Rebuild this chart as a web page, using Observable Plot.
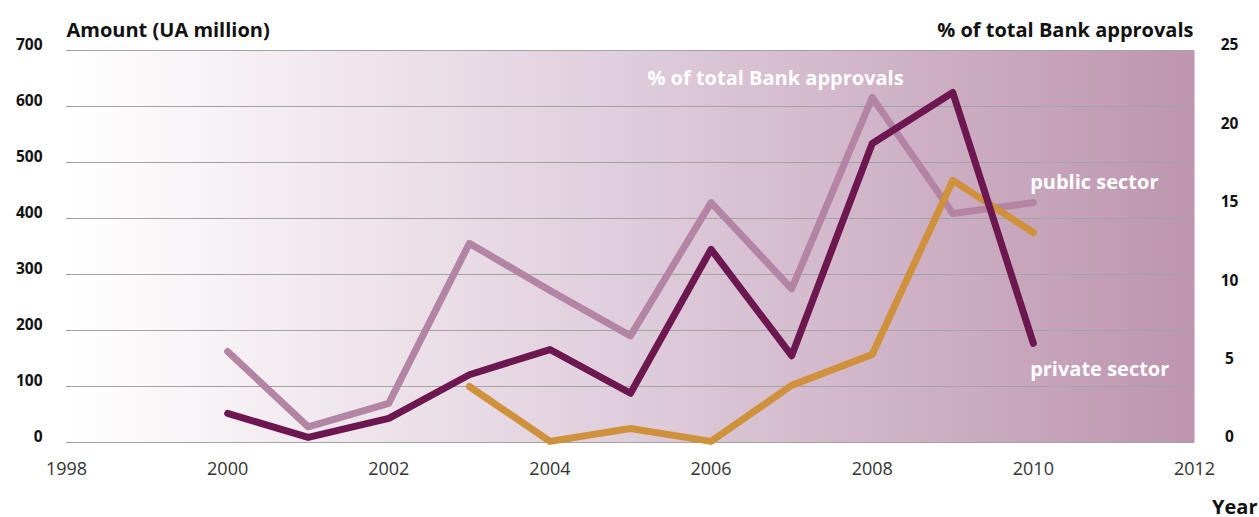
<!DOCTYPE html>
<html>
<head>
<meta charset="utf-8">
<script src="https://cdn.jsdelivr.net/npm/d3@7"></script>
<script src="https://cdn.jsdelivr.net/npm/@observablehq/plot@0.6"></script>
<style>
  html, body { margin: 0; padding: 0; background: #ffffff; }
  #chart svg { display: block; }
</style>
</head>
<body>
<div id="chart"></div>
<script>
// ---- data ----
const years = [2000, 2001, 2002, 2003, 2004, 2005, 2006, 2007, 2008, 2009, 2010];
const privateSector = [52, 9, 43, 121, 166, 88, 345, 155, 534, 625, 177];            // UA million
const pctTotalApprovals = [5.8, 1.0, 2.5, 12.7, 9.7, 6.8, 15.3, 9.8, 22.0, 14.6, 15.3]; // %
const publicYears = [2003, 2004, 2005, 2006, 2007, 2008, 2009, 2010];
const publicSector = [100, 2, 25, 2, 102, 157, 468, 375];                             // UA million

const xTicks = [1998, 2000, 2002, 2004, 2006, 2008, 2010, 2012];
const leftTicks = [0, 100, 200, 300, 400, 500, 600, 700];
const rightTicks = [0, 5, 10, 15, 20, 25];
const pctFactor = 700 / 25; // right axis 0–25 % maps onto left axis 0–700

const privateData = years.map((y, i) => ({year: y, value: privateSector[i]}));
const pctData = years.map((y, i) => ({year: y, value: pctTotalApprovals[i] * pctFactor}));
const publicData = publicYears.map((y, i) => ({year: y, value: publicSector[i]}));

const font = "'Open Sans', 'Noto Sans', sans-serif";

const chart = Plot.plot({
  width: 1259,
  height: 517,
  marginLeft: 66,
  marginRight: 65,
  marginTop: 50,
  marginBottom: 75,
  style: {fontFamily: font, background: "transparent", overflow: "visible"},
  x: {domain: [1998, 2012], axis: null},
  y: {domain: [0, 700], axis: null},
  marks: [
    Plot.frame({fill: "url(#bggrad)", stroke: "none"}),
    Plot.ruleY(leftTicks, {stroke: "#a3a3a3", strokeWidth: 1.2}),
    // lines
    Plot.line(pctData, {x: "year", y: "value", stroke: "#b384a4", strokeWidth: 7, strokeLinecap: "round", strokeLinejoin: "round"}),
    Plot.line(publicData, {x: "year", y: "value", stroke: "#d0913c", strokeWidth: 7, strokeLinecap: "round", strokeLinejoin: "round"}),
    Plot.line(privateData, {x: "year", y: "value", stroke: "#6d1751", strokeWidth: 7, strokeLinecap: "round", strokeLinejoin: "round"}),
    // in-chart labels
    Plot.text(["% of total Bank approvals"], {x: 2006.8, y: 650, text: d => d, fill: "white", fontWeight: "bold", fontSize: 20, textAnchor: "middle"}),
    Plot.text(["public sector"], {x: 2009.96, y: 464, text: d => d, fill: "white", fontWeight: "bold", fontSize: 20, textAnchor: "start"}),
    Plot.text(["private sector"], {x: 2009.96, y: 130, text: d => d, fill: "white", fontWeight: "bold", fontSize: 20, textAnchor: "start"}),
    // left axis labels
    Plot.text(leftTicks, {y: d => d, text: d => String(d), frameAnchor: "left", dx: -24, dy: -5, textAnchor: "end", fontWeight: "bold", fontSize: 15.5, fill: "#111"}),
    // right axis labels
    Plot.text(rightTicks, {y: d => d * pctFactor, text: d => String(d), frameAnchor: "right", dx: 35, dy: -5, textAnchor: "middle", fontWeight: "bold", fontSize: 15.5, fill: "#111"}),
    // x axis labels
    Plot.text(xTicks, {x: d => d, text: d => String(d), frameAnchor: "bottom", dy: 32, fontSize: 18, fill: "#333"}),
    // titles
    Plot.text(["Amount (UA million)"], {frameAnchor: "top-left", text: d => d, dy: -28, fontWeight: "bold", fontSize: 20, fill: "#111", textAnchor: "start"}),
    Plot.text(["% of total Bank approvals"], {frameAnchor: "top-right", text: d => d, dy: -28, dx: -1, fontWeight: "bold", fontSize: 20, fill: "#111", textAnchor: "end"}),
    Plot.text(["Year"], {frameAnchor: "bottom-right", text: d => d, dx: 63, dy: 71, fontWeight: "bold", fontSize: 20, fill: "#111", textAnchor: "end"})
  ]
});

// gradient definition for the plot background
const ns = "http://www.w3.org/2000/svg";
const defs = document.createElementNS(ns, "defs");
const grad = document.createElementNS(ns, "linearGradient");
grad.setAttribute("id", "bggrad");
grad.setAttribute("x1", "0"); grad.setAttribute("y1", "0");
grad.setAttribute("x2", "1"); grad.setAttribute("y2", "0");
[["0", "#ffffff"], ["0.5", "#dfcddb"], ["1", "#bd95ae"]].forEach(([o, c]) => {
  const s = document.createElementNS(ns, "stop");
  s.setAttribute("offset", o);
  s.setAttribute("stop-color", c);
  grad.appendChild(s);
});
defs.appendChild(grad);
chart.insertBefore(defs, chart.firstChild);

document.getElementById("chart").appendChild(chart);
</script>
</body>
</html>
